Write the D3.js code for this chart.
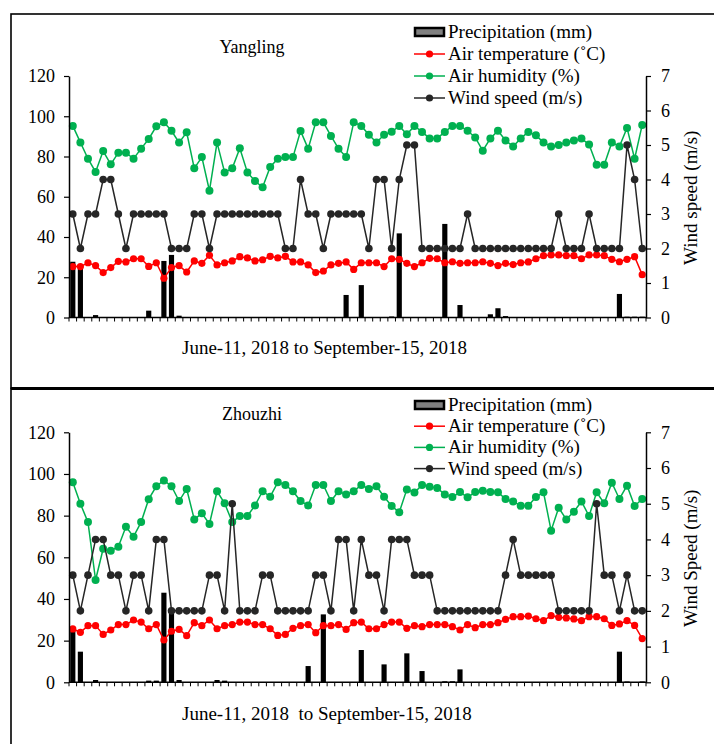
<!DOCTYPE html>
<html>
<head>
<meta charset="utf-8">
<script src="https://cdn.jsdelivr.net/npm/d3@7"></script>
<style>
  body { margin: 0; background: #fff; }
  svg text { fill: #000; }
</style>
</head>
<body>
<svg id="chart" width="714" height="744"></svg>
<script>
// 76 daily records, June-11 to September-15, 2018
const days = d3.range(76);

const leftTicks = [0, 20, 40, 60, 80, 100, 120];
const rightTicks = [0, 1, 2, 3, 4, 5, 6, 7];
const legendLabels = ["Precipitation (mm)", "Air temperature (\u02DAC)", "Air humidity (%)", "Wind speed (m/s)"];

// ---- Yangling ----
const yanglingPrecip = [27.7, 24.4, 0, 1.2, 0, 0, 0, 0, 0, 0, 3.4, 0, 28.1, 31.1, 0.9, 0, 0, 0, 0, 0,
  0, 0, 0, 0, 0, 0, 0, 0, 0, 0, 0, 0, 0, 0, 0, 0, 11.2, 0, 16.1, 0,
  0, 0, 0.5, 41.8, 0, 0, 0, 0, 0, 46.5, 0, 6.2, 0, 0, 0, 1.6, 4.6, 0.7, 0, 0,
  0, 0, 0, 0, 0, 0, 0, 0, 0, 0, 0, 0, 11.7, 0.4, 0.4, 0.4];
const yanglingTemp = [25.3, 25.3, 27.2, 25.8, 22.3, 24.8, 27.9, 27.6, 29.2, 29.2, 25.4, 27.2, 19.5, 24.8, 25.8, 22.6, 28.1, 26.9, 30.9, 26.1,
  27.2, 28.1, 30.2, 29.6, 28.1, 28.7, 30.4, 29.6, 30.4, 27.6, 27.6, 26.1, 22.3, 23.1, 26.1, 26.9, 27.6, 23.9, 27.2, 27.2,
  27.2, 25.3, 29.2, 28.9, 26.9, 25.3, 27.2, 29.4, 29.2, 27.2, 27.7, 26.9, 27.2, 27.2, 27.7, 26.9, 25.8, 26.9, 26.3, 27.2,
  27.6, 29.2, 30.7, 31.1, 31.1, 30.7, 30.7, 29.2, 31.1, 31.1, 30.7, 28.9, 27.7, 28.9, 30.2, 21.3];
const yanglingHumidity = [95.2, 87.0, 78.9, 72.3, 82.7, 76.1, 81.9, 81.9, 78.9, 83.9, 88.7, 95.0, 97.0, 92.8, 86.9, 92.0, 74.1, 79.7, 63.0, 86.9,
  72.1, 74.1, 84.1, 72.1, 67.8, 64.7, 74.8, 78.9, 79.7, 79.7, 92.7, 83.9, 97.0, 97.0, 90.2, 83.9, 79.7, 97.0, 95.2, 90.8,
  87.0, 90.8, 92.3, 95.2, 91.0, 95.2, 92.2, 89.0, 89.0, 92.2, 95.2, 95.2, 92.8, 89.5, 82.9, 89.0, 92.8, 88.0, 85.0, 89.0,
  92.2, 90.5, 87.0, 85.0, 85.7, 87.0, 87.9, 88.9, 86.0, 75.9, 75.9, 87.0, 85.0, 94.2, 78.9, 95.7];
const yanglingWind = [3, 2, 3, 3, 4, 4, 3, 2, 3, 3, 3, 3, 3, 2, 2, 2, 3, 3, 2, 3,
  3, 3, 3, 3, 3, 3, 3, 3, 2, 2, 4, 3, 3, 2, 3, 3, 3, 3, 3, 2,
  4, 4, 2, 4, 5, 5, 2, 2, 2, 2, 2, 2, 3, 2, 2, 2, 2, 2, 2, 2,
  2, 2, 2, 2, 3, 2, 2, 2, 3, 2, 2, 2, 2, 5, 4, 2];

// ---- Zhouzhi ----
const zhouzhiPrecip = [25.9, 14.7, 0, 1.1, 0, 0, 0, 0, 0, 0, 0.8, 0.8, 43.0, 33.9, 1.1, 0, 0, 0, 0, 1.1,
  0.8, 0, 0, 0, 0, 0, 0, 0, 0, 0, 0, 7.8, 0, 32.6, 0, 0, 0, 0, 15.5, 0,
  0, 8.6, 0, 0, 13.9, 0, 5.4, 0, 0, 0.5, 0.5, 6.2, 0, 0, 0, 0, 0, 0, 0, 0,
  0, 0, 0, 0, 0, 0, 0, 0, 0, 0, 0, 0, 14.7, 0.4, 0, 0.4];
const zhouzhiTemp = [25.6, 24.0, 27.2, 27.2, 23.0, 25.1, 27.7, 27.7, 29.9, 28.9, 25.7, 27.7, 20.3, 24.5, 25.4, 22.4, 28.6, 27.2, 29.9, 25.7,
  27.2, 27.7, 28.9, 28.9, 27.7, 27.7, 25.7, 22.5, 23.0, 25.9, 27.2, 27.7, 23.8, 27.2, 27.2, 27.7, 25.4, 28.6, 28.9, 25.7,
  25.7, 27.7, 28.9, 28.9, 25.9, 27.2, 26.7, 27.7, 27.7, 27.7, 26.7, 25.1, 27.7, 26.2, 27.7, 27.7, 28.6, 30.2, 31.5, 31.5,
  31.8, 30.5, 29.6, 32.0, 31.2, 30.9, 30.4, 29.6, 31.5, 31.5, 30.5, 27.3, 28.0, 29.6, 27.3, 21.0];
const zhouzhiHumidity = [96.0, 85.7, 76.9, 49.1, 64.1, 63.2, 65.1, 74.7, 69.9, 76.9, 87.9, 94.1, 96.9, 94.1, 87.0, 92.8, 78.2, 81.1, 76.0, 91.7,
  85.9, 76.9, 79.8, 79.8, 84.9, 91.7, 89.1, 96.0, 94.7, 91.7, 87.0, 84.9, 94.7, 94.7, 87.0, 91.7, 90.1, 91.7, 94.7, 92.8,
  94.1, 89.1, 84.6, 81.6, 92.6, 91.1, 94.7, 93.9, 93.3, 90.1, 88.9, 91.3, 88.8, 91.3, 91.9, 91.3, 91.2, 88.0, 86.8, 84.7,
  84.7, 88.9, 91.2, 72.8, 83.8, 78.2, 81.9, 86.8, 79.8, 91.2, 85.9, 95.8, 88.0, 94.4, 84.6, 88.0];
const zhouzhiWind = [3, 2, 3, 4, 4, 3, 3, 2, 3, 3, 2, 4, 4, 2, 2, 2, 2, 2, 3, 3,
  2, 5, 2, 2, 2, 3, 3, 2, 2, 2, 2, 2, 3, 3, 2, 4, 4, 2, 4, 3,
  3, 2, 4, 4, 4, 3, 3, 3, 2, 2, 2, 2, 2, 2, 2, 2, 2, 3, 4, 3,
  3, 3, 3, 3, 2, 2, 2, 2, 2, 5, 3, 3, 2, 3, 2, 2];

const FONT = "'Liberation Serif', 'Times New Roman', Times, serif";
const RED = "#ff0000";
const GREEN = "#00b050";
const DARK = "#262626";

const svg = d3.select("#chart");

// frames around the two panels (right side runs off the picture)
svg.append("rect")
    .attr("x", 11).attr("y", 14)
    .attr("width", 720).attr("height", 374)
    .attr("fill", "none").attr("stroke", "#000").attr("stroke-width", 1.6);
svg.append("rect")
    .attr("x", 11).attr("y", 388.5)
    .attr("width", 720).attr("height", 380)
    .attr("fill", "none").attr("stroke", "#000").attr("stroke-width", 1.6);
svg.append("line")
    .attr("x1", 11).attr("x2", 714).attr("y1", 388.5).attr("y2", 388.5)
    .attr("stroke", "#000").attr("stroke-width", 3);

function drawPanel(cfg) {
    const g = svg.append("g");
    const x = d3.scaleBand().domain(days).range([69, 646]);
    const y = d3.scaleLinear().domain([0, 120]).range([cfg.bottom, cfg.top]);
    const yWind = d3.scaleLinear().domain([0, 7]).range([cfg.bottom, cfg.top]);
    const cx = d => x(d) + x.bandwidth() / 2;

    // precipitation bars
    const barW = x.bandwidth() * 0.68;
    g.append("g").selectAll("rect")
        .data(days.filter(i => cfg.precip[i] > 0))
        .join("rect")
        .attr("x", i => cx(i) - barW / 2)
        .attr("width", barW)
        .attr("y", i => y(cfg.precip[i]))
        .attr("height", i => Math.max(1, y(0) - y(cfg.precip[i])))
        .attr("fill", "#000");

    // line series
    const series = [
        {vals: cfg.temp, scale: y, color: RED, r: 3.6},
        {vals: cfg.humidity, scale: y, color: GREEN, r: 4},
        {vals: cfg.wind, scale: yWind, color: DARK, r: 3.8},
    ];
    series.forEach(s => {
        const line = d3.line().x(i => cx(i)).y(i => s.scale(s.vals[i]));
        g.append("path")
            .attr("d", line(days))
            .attr("fill", "none")
            .attr("stroke", s.color)
            .attr("stroke-width", 1.5);
        g.append("g").selectAll("circle")
            .data(days)
            .join("circle")
            .attr("cx", i => cx(i))
            .attr("cy", i => s.scale(s.vals[i]))
            .attr("r", s.r)
            .attr("fill", s.color);
    });

    // axes
    const leftAxis = g.append("g")
        .attr("transform", "translate(69,0)")
        .call(d3.axisLeft(y).tickValues(leftTicks).tickSize(5).tickPadding(9).tickSizeOuter(0));
    const rightAxis = g.append("g")
        .attr("transform", "translate(646,0)")
        .call(d3.axisRight(yWind).tickValues(rightTicks).tickFormat(d3.format("d"))
            .tickSize(5).tickPadding(10).tickSizeOuter(0));
    [leftAxis, rightAxis].forEach(a => {
        a.attr("font-size", 18);
        a.select(".domain").attr("stroke", "#000").attr("stroke-width", 1.5);
        a.selectAll(".tick line").attr("stroke", "#000").attr("stroke-width", 1.2);
        a.selectAll("text").attr("fill", "#000");
    });

    // x axis: boundary ticks only
    const xAxis = g.append("g");
    xAxis.append("line")
        .attr("x1", 69).attr("x2", 646)
        .attr("y1", cfg.bottom).attr("y2", cfg.bottom)
        .attr("stroke", "#000").attr("stroke-width", 1.5);
    xAxis.selectAll("line.tk")
        .data(d3.range(77))
        .join("line")
        .attr("class", "tk")
        .attr("x1", k => 69 + k * x.step()).attr("x2", k => 69 + k * x.step())
        .attr("y1", cfg.bottom).attr("y2", cfg.bottom + 4)
        .attr("stroke", "#000").attr("stroke-width", 1);

    // titles
    g.append("text")
        .attr("x", 252).attr("y", cfg.titleY)
        .attr("text-anchor", "middle")
        .attr("font-size", 18)
        .text(cfg.title);
    g.append("text")
        .attr("x", 182).attr("y", cfg.xLabelY)
        .attr("font-size", 19)
        .style("white-space", "pre")
        .text(cfg.xLabel);
    g.append("text")
        .attr("transform", `translate(697,${(cfg.top + cfg.bottom) / 2 + 1}) rotate(-90)`)
        .attr("text-anchor", "middle")
        .attr("font-size", 19)
        .text(cfg.windTitle);

    // legend
    const lg = g.append("g");
    legendLabels.forEach((label, k) => {
        const ly = cfg.legendY + k * cfg.legendStep;
        if (k === 0) {
            lg.append("rect")
                .attr("x", 415).attr("y", ly - 4)
                .attr("width", 29).attr("height", 8)
                .attr("fill", "#808080").attr("stroke", "#000").attr("stroke-width", 2.5);
        } else {
            const c = [RED, GREEN, DARK][k - 1];
            lg.append("line")
                .attr("x1", 414).attr("x2", 445).attr("y1", ly).attr("y2", ly)
                .attr("stroke", c).attr("stroke-width", 1.5);
            lg.append("circle")
                .attr("cx", 429.5).attr("cy", ly).attr("r", 3.6).attr("fill", c);
        }
        lg.append("text")
            .attr("x", 448).attr("y", ly + 6)
            .attr("font-size", 19)
            .text(label);
    });
}

drawPanel({
    top: 76, bottom: 317.5,
    precip: yanglingPrecip, temp: yanglingTemp, humidity: yanglingHumidity, wind: yanglingWind,
    title: "Yangling", titleY: 53,
    xLabel: "June-11, 2018 to September-15, 2018", xLabelY: 354,
    windTitle: "Wind speed (m/s)",
    legendY: 32, legendStep: 22,
});
drawPanel({
    top: 432.3, bottom: 682.3,
    precip: zhouzhiPrecip, temp: zhouzhiTemp, humidity: zhouzhiHumidity, wind: zhouzhiWind,
    title: "Zhouzhi", titleY: 420,
    xLabel: "June-11, 2018  to September-15, 2018", xLabelY: 720,
    windTitle: "Wind Speed (m/s)",
    legendY: 405, legendStep: 21.2,
});

// every label in the serif face
svg.selectAll("text").style("font-family", FONT);
</script>
</body>
</html>
